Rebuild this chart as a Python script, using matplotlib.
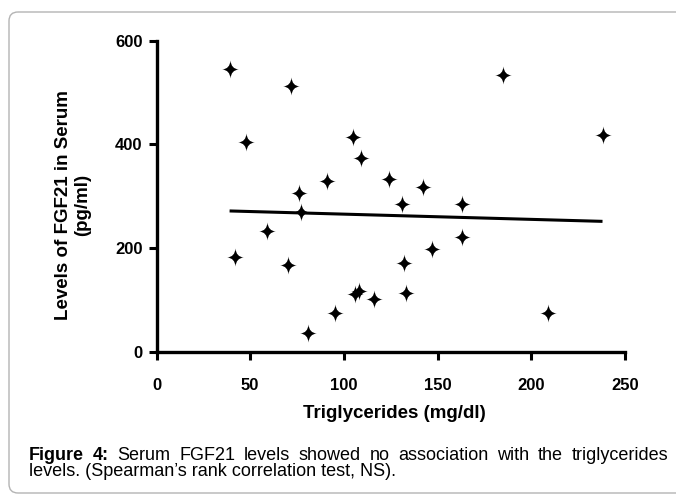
import numpy as np
import matplotlib
matplotlib.use("Agg")
import matplotlib.pyplot as plt
from matplotlib.path import Path
from matplotlib.patches import FancyBboxPatch

# values
triglycerides = [39, 72, 48, 105, 109, 238, 185, 91, 76, 124, 142, 131, 163, 77,
                 59, 42, 70, 132, 147, 163, 106, 108, 116, 133, 95, 81, 209]
fgf21 = [546, 513, 405, 414, 373, 418, 534, 329, 307, 333, 317, 284, 284, 269,
         232, 183, 167, 172, 198, 221, 111, 118, 102, 114, 74, 37, 74]

x_ticks = [0, 50, 100, 150, 200, 250]
y_ticks = [0, 200, 400, 600]

x_label = "Triglycerides (mg/dl)"
y_label = "Levels of FGF21 in Serum\n(pg/ml)"
caption_line1 = [("Figure", "bold"), ("4:", "bold"), ("Serum", "normal"), ("FGF21", "normal"),
                 ("levels", "normal"), ("showed", "normal"), ("no", "normal"),
                 ("association", "normal"), ("with", "normal"), ("the", "normal"),
                 ("triglycerides", "normal")]
caption_line2 = "levels. (Spearman\u2019s rank correlation test, NS)."

W, H = 676, 495
plt.rcParams['font.family'] = ['Liberation Sans', 'DejaVu Sans']


def _sparkle(w=1.0, h=1.1, k=0.08):
    verts = [(0, h), (k, k), (w, 0), (k, -k), (0, -h), (-k, -k), (-w, 0), (-k, k), (0, h), (0, h)]
    codes = [Path.MOVETO] + [Path.CURVE3] * 8 + [Path.CLOSEPOLY]
    return Path(verts, codes)


fig = plt.figure(figsize=(W / 100, H / 100), dpi=100)

# frame + caption live on a pixel-coordinate overlay
bg = fig.add_axes([0, 0, 1, 1], zorder=-1)
bg.set_xlim(0, W)
bg.set_ylim(H, 0)
bg.axis("off")
bg.add_patch(FancyBboxPatch((9, 12), 720, 481, boxstyle="round,pad=0,rounding_size=9",
                            fc="none", ec="#b4b4b4", lw=1.0))

ax = fig.add_axes([156.5 / W, 1 - 351.7 / H, (625 - 156.5) / W, (351.7 - 40.7) / H])
ax.patch.set_alpha(0)

ax.plot(triglycerides, fgf21, linestyle="none", marker=_sparkle(), markersize=13,
        color="black", markeredgewidth=0)

slope, intercept = np.polyfit(triglycerides, fgf21, 1)
fit_x = np.array([min(triglycerides), max(triglycerides)])
ax.plot(fit_x, slope * fit_x + intercept, color="black", lw=2.2, solid_capstyle="butt")

ax.set_xlim(0, 250)
ax.set_ylim(0, 600)
ax.set_xticks(x_ticks)
ax.set_yticks(y_ticks)
for s in ("top", "right"):
    ax.spines[s].set_visible(False)
for s in ("left", "bottom"):
    ax.spines[s].set_linewidth(2.4)
    ax.spines[s].set_capstyle("projecting")
ax.tick_params(direction="out", length=6, width=2.2, labelsize=12)
ax.tick_params(axis="x", pad=13)
ax.tick_params(axis="y", pad=4)
for lab in ax.get_xticklabels() + ax.get_yticklabels():
    lab.set_fontweight("bold")

fig.text(394 / W, 1 - 413 / H, x_label, ha="center", va="center",
         fontsize=13.5, fontweight="bold")
fig.text(73 / W, 1 - 205 / H, y_label, ha="center", va="center", rotation=90,
         multialignment="center", linespacing=1.1, fontsize=13.5, fontweight="bold")

# justified first caption line
renderer = fig.canvas.get_renderer()
cap_size = 13
words = [bg.text(0, 456, w, fontsize=cap_size, fontweight=fw, va="center")
         for w, fw in caption_line1]
widths = [t.get_window_extent(renderer).width for t in words]
x0, x1 = 29, 668
gap = (x1 - x0 - sum(widths)) / (len(words) - 1)
x = x0
for t, wd in zip(words, widths):
    t.set_x(x)
    x += wd + gap
bg.text(x0, 472, caption_line2, fontsize=cap_size, va="center")

fig.savefig("out.png", dpi=100)
